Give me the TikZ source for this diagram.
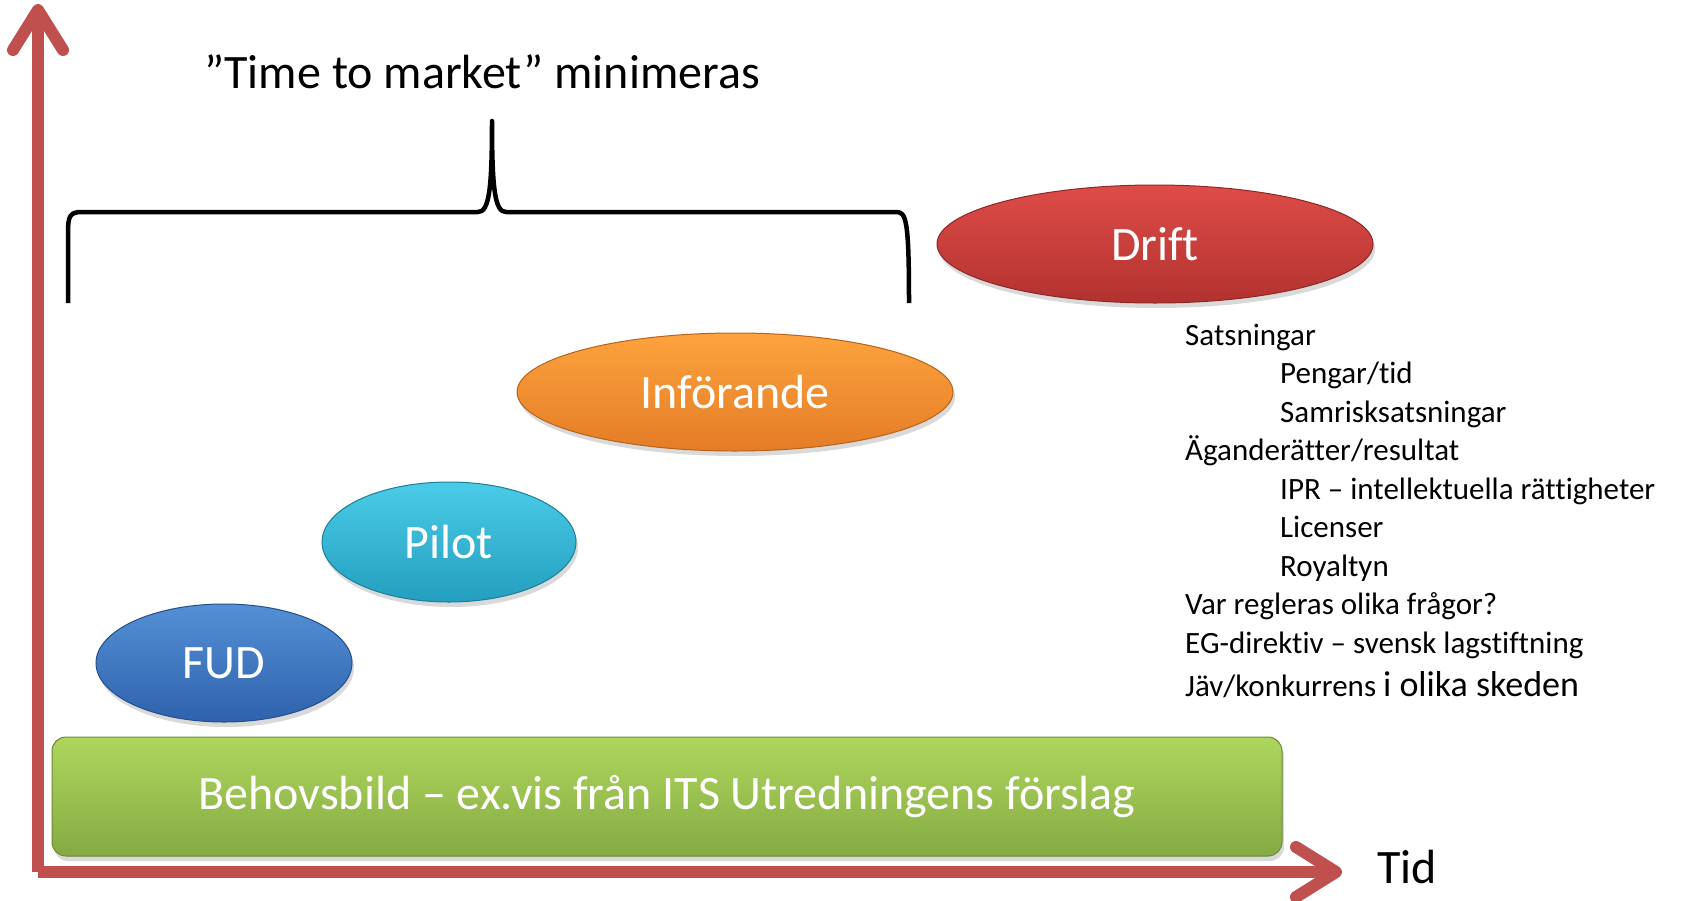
\documentclass[tikz,border=0pt]{standalone}
\usepackage{fontspec}
\setmainfont{Carlito}[Ligatures=NoCommon]
\usetikzlibrary{shapes.geometric,arrows.meta,shadows}
\definecolor{axisred}{RGB}{192,80,77}
\definecolor{driftA}{RGB}{222,76,72}
\definecolor{driftB}{RGB}{178,50,48}
\definecolor{infA}{RGB}{253,163,62}
\definecolor{infB}{RGB}{228,124,38}
\definecolor{pilotA}{RGB}{74,204,232}
\definecolor{pilotB}{RGB}{36,158,190}
\definecolor{fudA}{RGB}{84,144,214}
\definecolor{fudB}{RGB}{46,98,172}
\definecolor{needA}{RGB}{174,214,92}
\definecolor{needB}{RGB}{134,170,68}
\begin{document}
\begin{tikzpicture}[x=1pt,y=-1pt,
  axis/.style={line width=12pt,draw=axisred,-{Straight Barb[length=40pt,width=50pt,line width=12pt,round]}},
  phase/.style={ellipse,inner sep=0pt,text=white,font=\fontsize{48}{58}\selectfont,line width=1pt,
    drop shadow={shadow xshift=2pt,shadow yshift=-5pt,opacity=.3}},
  item/.style={anchor=base west,inner sep=0pt,font=\fontsize{31}{37}\selectfont}]
\useasboundingbox (0,0) rectangle (1684,900);

\coordinate (O) at (38,872);
\coordinate (ytop) at (38,4);
\coordinate (xend) at (1342,872);
\draw[axis] (O) -- (ytop);
\draw[axis] (O) -- (xend);
\node (tid) at (1377,883) [anchor=base west,inner sep=0pt,font=\fontsize{48}{58}\selectfont] {Tid};

\node (need) at (667,796.5) [rounded corners=14pt,minimum width=1230pt,minimum height=119pt,
  top color=needA,bottom color=needB,draw=needB!80!black,line width=1pt,text=white,
  font=\fontsize{48}{58}\selectfont,drop shadow={shadow xshift=2pt,shadow yshift=-5pt,opacity=.3}]
  {\raisebox{-3pt}{Behovsbild – ex.vis från ITS Utredningens förslag}};

\node[phase,minimum width=256pt,minimum height=118pt,top color=fudA,bottom color=fudB,draw=fudB!80!black] (fud) at (224,663) {FUD};
\node[phase,minimum width=254pt,minimum height=120pt,top color=pilotA,bottom color=pilotB,draw=pilotB!80!black] (pilot) at (449,542) {Pilot};
\node[phase,minimum width=436pt,minimum height=118pt,top color=infA,bottom color=infB,draw=infB!80!black] (inf) at (735,392) {Införande};
\node[phase,minimum width=436pt,minimum height=118pt,top color=driftA,bottom color=driftB,draw=driftB!80!black] (drift) at (1155,244) {Drift};

\draw[line width=4.5pt,line join=round] (68,303) -- (68,232) .. controls (68,216) and (70,212) .. (82,212) -- (478,212)
  .. controls (489,212) and (492,190) .. (492,121) .. controls (492,190) and (495,212) .. (506,212) -- (896,212)
  .. controls (906,212) and (909,218) .. (909,303);
\node (ttm) at (482,88) [anchor=base,inner sep=0pt,font=\fontsize{48}{58}\selectfont] {”Time to market” minimeras};

\node[item] (sats) at (1185,345) {Satsningar};
\node[item] (pengar) at (1280,383.5) {Pengar/tid};
\node[item] (samrisk) at (1280,422) {Samrisksatsningar};
\node[item] (agande) at (1185,460.5) {Äganderätter/resultat};
\node[item] (ipr) at (1280,499) {IPR – intellektuella rättigheter};
\node[item] (lic) at (1280,537.5) {Licenser};
\node[item] (roy) at (1280,576) {Royaltyn};
\node[item] (var) at (1185,614.5) {Var regleras olika frågor?};
\node[item] (eg) at (1185,653) {EG-direktiv – svensk lagstiftning};
\node[item] (jav) at (1185,696) {Jäv/konkurrens {\fontsize{36}{42}\selectfont i olika skeden}};

\end{tikzpicture}
\end{document}
